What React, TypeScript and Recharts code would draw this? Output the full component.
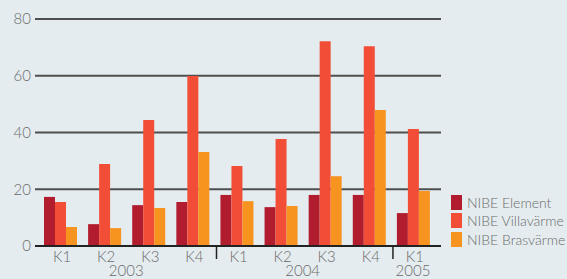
import React from 'react';
import { BarChart, Bar, XAxis, YAxis, CartesianGrid } from 'recharts';

const quarters = ['K1', 'K2', 'K3', 'K4', 'K1', 'K2', 'K3', 'K4', 'K1'];
const years = ['2003', '2003', '2003', '2003', '2004', '2004', '2004', '2004', '2005'];
const element = [17.3, 7.7, 14.4, 15.5, 18, 13.7, 18, 18, 11.6];
const villavarme = [15.5, 28.9, 44.4, 59.9, 28.2, 37.7, 72.2, 70.4, 41.2];
const brasvarme = [6.7, 6.3, 13.4, 33.1, 15.8, 14.1, 24.6, 47.9, 19.4];
const yTicks = [0, 20, 40, 60, 80];

const series = [
    { key: 'element', name: 'NIBE Element', color: '#b11c2f' },
    { key: 'villa', name: 'NIBE Villavärme', color: '#f24e37' },
    { key: 'bras', name: 'NIBE Brasvärme', color: '#f7931f' },
];

const data = quarters.map((q, i) => ({
    q: q + '-' + i,
    element: element[i],
    villa: villavarme[i],
    bras: brasvarme[i],
}));

const BAND = 44.1;
const TEXT = '#6b6b6b';
const FONT = 'Lato, "DejaVu Sans", sans-serif';

const QuarterTick = (props: any) => {
    const { x, y, payload } = props;
    const i = payload.index;
    const yr = years[i];
    const count = years.filter(v => v === yr).length;
    const showYear = i === years.indexOf(yr);
    const newGroup = i > 0 && years[i - 1] !== yr;
    return (
        <g>
            <text x={x + 2} y={y + 16} textAnchor="middle" fill={TEXT} fontSize={15} fontFamily={FONT} fontWeight={300}>
                {quarters[i]}
            </text>
            {showYear && (
                <text x={x + ((count - 1) / 2) * BAND} y={y + 30} textAnchor="middle" fill={TEXT} fontSize={15} fontFamily={FONT} fontWeight={300}>
                    {yr}
                </text>
            )}
            {newGroup && <line x1={x - 20} x2={x - 20} y1={y} y2={y + 13} stroke="#222" strokeWidth={1.5} />}
        </g>
    );
};

export default function App() {
    return (
        <div style={{ position: 'absolute', left: 0, top: 0, width: 567, height: 279, background: '#e4ecef', overflow: 'hidden' }}>
            <BarChart width={567} height={279} data={data} margin={{ top: 19, right: 126, left: 0, bottom: 0 }} barGap={0} barSize={11}>
                <CartesianGrid horizontal vertical={false} stroke="#4f4f4f" strokeWidth={2} />
                <XAxis
                    dataKey="q"
                    height={33}
                    axisLine={{ stroke: '#222', strokeWidth: 2 }}
                    tickLine={false}
                    tickSize={0}
                    tickMargin={0}
                    interval={0}
                    padding={{ left: 3, right: 6 }}
                    tick={<QuarterTick />}
                />
                <YAxis
                    width={35}
                    domain={[0, 80]}
                    ticks={yTicks}
                    axisLine={false}
                    tickLine={false}
                    tickSize={0}
                    tickMargin={4}
                    tick={{ fill: TEXT, fontSize: 15, fontFamily: FONT, fontWeight: 300 }}
                />
                {series.map(s => (
                    <Bar key={s.key} dataKey={s.key} name={s.name} fill={s.color} isAnimationActive={false} />
                ))}
            </BarChart>
            <div style={{ position: 'absolute', left: 451, top: 193, fontFamily: FONT, fontWeight: 300, fontSize: 14, color: TEXT, whiteSpace: 'nowrap' }}>
                {series.map(s => (
                    <div key={s.key} style={{ display: 'flex', alignItems: 'center', height: 18.5 }}>
                        <span style={{ display: 'inline-block', width: 11, height: 15, background: s.color, marginRight: 5 }} />
                        <span>{s.name}</span>
                    </div>
                ))}
            </div>
        </div>
    );
}
